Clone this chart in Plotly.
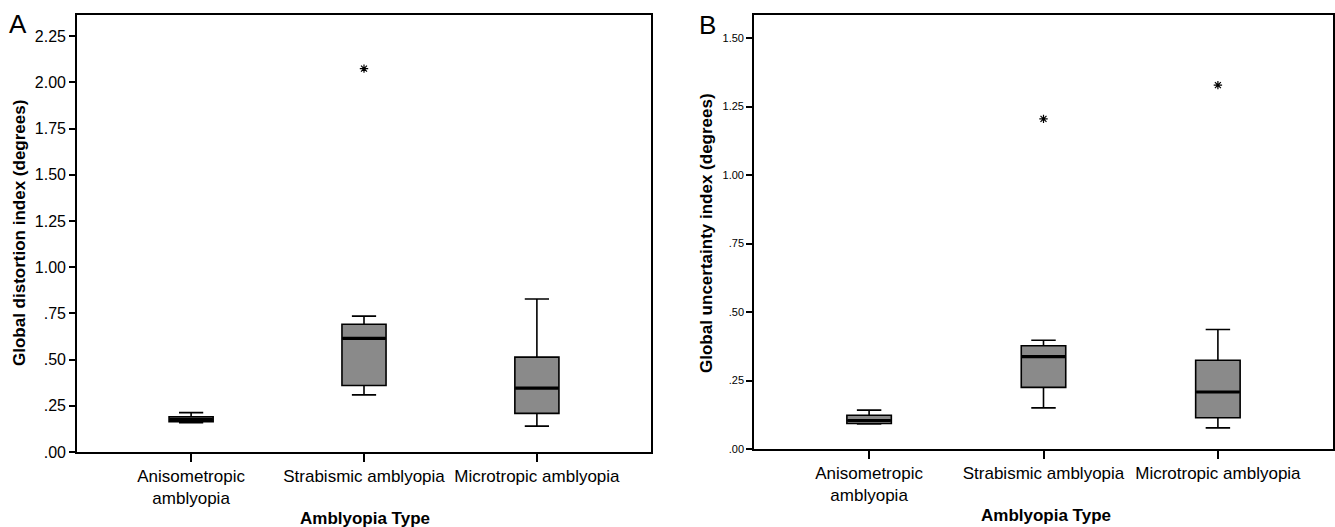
import plotly.graph_objects as go

W, H = 1335, 527

categories = ["Anisometropic amblyopia", "Strabismic amblyopia", "Microtropic amblyopia"]
category_labels = ["Anisometropic<br>amblyopia", "Strabismic amblyopia", "Microtropic amblyopia"]

# Panel A: Global distortion index (degrees)
a_lower = [0.158, 0.309, 0.140]
a_q1 = [0.164, 0.360, 0.209]
a_median = [0.176, 0.615, 0.346]
a_q3 = [0.191, 0.691, 0.513]
a_upper = [0.213, 0.735, 0.828]
a_outlier_cat = ["Strabismic amblyopia"]
a_outlier_val = [2.074]

# Panel B: Global uncertainty index (degrees)
b_lower = [0.091, 0.150, 0.077]
b_q1 = [0.093, 0.225, 0.114]
b_median = [0.104, 0.337, 0.208]
b_q3 = [0.123, 0.377, 0.324]
b_upper = [0.142, 0.397, 0.436]
b_outlier_cat = ["Strabismic amblyopia", "Microtropic amblyopia"]
b_outlier_val = [1.205, 1.328]

a_ticks = [0, 0.25, 0.5, 0.75, 1.0, 1.25, 1.5, 1.75, 2.0, 2.25]
a_ticktext = [".00", ".25", ".50", ".75", "1.00", "1.25", "1.50", "1.75", "2.00", "2.25"]
b_ticks = [0, 0.25, 0.5, 0.75, 1.0, 1.25, 1.5]
b_ticktext = [".00", ".25", ".50", ".75", "1.00", "1.25", "1.50"]

FILL = "#8a8a8a"
FONT = "Liberation Sans, Arial, sans-serif"
BOX_W = 0.255
MEDIAN_SIZE = 31

fig = go.Figure()


def add_panel(xa, ya, lower, q1, med, q3, upper, ocat, oval):
    fig.add_trace(go.Box(
        x=categories, q1=q1, median=med, q3=q3,
        lowerfence=lower, upperfence=upper,
        width=BOX_W, whiskerwidth=0.55,
        fillcolor=FILL, line=dict(color="black", width=1.6),
        boxpoints=False, xaxis=xa, yaxis=ya, showlegend=False, hoverinfo="skip",
    ))
    fig.add_trace(go.Scatter(
        x=categories, y=med, mode="markers",
        marker=dict(symbol="line-ew", size=MEDIAN_SIZE, color="black",
                    line=dict(color="black", width=3.2)),
        xaxis=xa, yaxis=ya, showlegend=False, hoverinfo="skip",
    ))
    fig.add_trace(go.Scatter(
        x=ocat, y=oval, mode="markers",
        marker=dict(symbol="asterisk-open", size=7, color="black",
                    line=dict(color="black", width=1.2)),
        xaxis=xa, yaxis=ya, showlegend=False, hoverinfo="skip",
    ))


add_panel("x", "y", a_lower, a_q1, a_median, a_q3, a_upper, a_outlier_cat, a_outlier_val)
add_panel("x2", "y2", b_lower, b_q1, b_median, b_q3, b_upper, b_outlier_cat, b_outlier_val)

def px_x(p):
    return p / W

def px_y(p):
    return 1 - p / H

axis_common = dict(showline=True, linecolor="black", linewidth=1.6, mirror=True,
                   showgrid=False, zeroline=False, automargin=False, ticks="outside",
                   tickcolor="black")

fig.update_layout(
    width=W, height=H,
    margin=dict(l=0, r=0, t=0, b=0),
    paper_bgcolor="white", plot_bgcolor="white",
    font=dict(family=FONT, color="black"),
    xaxis=dict(domain=[px_x(77), px_x(651)], anchor="y", type="category",
               range=[-0.66, 2.66], tickvals=categories, ticktext=category_labels,
               ticklen=8, tickwidth=1.6, tickfont=dict(size=17), **axis_common),
    yaxis=dict(domain=[px_y(452), px_y(15)], anchor="x", range=[0, 2.364],
               tickvals=a_ticks, ticktext=a_ticktext, ticklen=6, tickwidth=1.6,
               tickfont=dict(size=16), **axis_common),
    xaxis2=dict(domain=[px_x(754), px_x(1333)], anchor="y2", type="category",
                range=[-0.66, 2.66], tickvals=categories, ticktext=category_labels,
                ticklen=8, tickwidth=1.6, tickfont=dict(size=17), **axis_common),
    yaxis2=dict(domain=[px_y(449), px_y(15)], anchor="x2", range=[0, 1.584],
                tickvals=b_ticks, ticktext=b_ticktext, ticklen=6, tickwidth=1.6,
                tickfont=dict(size=11), **axis_common),
)

ann = [
    dict(text="<b>Global distortion index (degrees)</b>", x=px_x(19), y=px_y(233), textangle=-90,
         font=dict(size=17, family=FONT), xanchor="center", yanchor="middle"),
    dict(text="<b>Global uncertainty index (degrees)</b>", x=px_x(706), y=px_y(233), textangle=-90,
         font=dict(size=17, family=FONT), xanchor="center", yanchor="middle"),
    dict(text="<b>Amblyopia Type</b>", x=px_x(365), y=px_y(518),
         font=dict(size=17, family=FONT), xanchor="center", yanchor="middle"),
    dict(text="<b>Amblyopia Type</b>", x=px_x(1046), y=px_y(515),
         font=dict(size=17, family=FONT), xanchor="center", yanchor="middle"),
    dict(text="A", x=px_x(18), y=px_y(24), font=dict(size=26, family=FONT),
         xanchor="center", yanchor="middle"),
    dict(text="B", x=px_x(707), y=px_y(25), font=dict(size=26, family=FONT),
         xanchor="center", yanchor="middle"),
]
for a in ann:
    a.update(xref="paper", yref="paper", showarrow=False)
fig.update_layout(annotations=ann)

fig.write_html("out.html")
